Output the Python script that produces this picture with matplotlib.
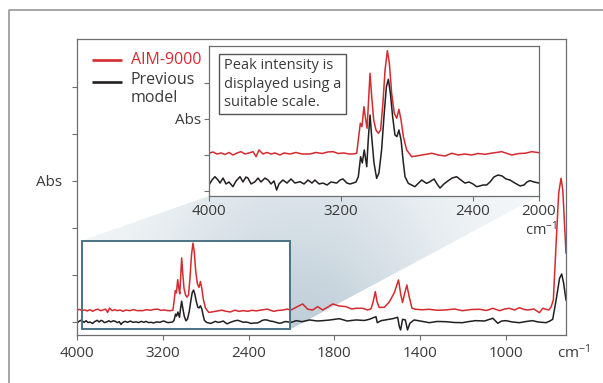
import numpy as np
import matplotlib
matplotlib.use("Agg")
import matplotlib.pyplot as plt
from matplotlib.patches import Polygon, Rectangle

plt.rcParams['font.family'] = ['Open Sans', 'DejaVu Sans']
plt.rcParams['mathtext.fontset'] = 'custom'
plt.rcParams['mathtext.rm'] = 'Open Sans'
plt.rcParams['mathtext.it'] = 'Open Sans'

# ---------------- data ----------------
series_names = ['AIM-9000', 'Previous\nmodel']

# 4000-2000 cm-1 region (shown also in the inset)
wn_red_hi = [4000, 3976, 3952, 3927, 3903, 3879, 3855, 3830, 3806, 3782, 3758, 3733, 3715, 3697,
             3673, 3648, 3624, 3600, 3570, 3545, 3509, 3473, 3436, 3388, 3352, 3315, 3279, 3248,
             3218, 3182, 3152, 3127, 3105, 3095, 3083, 3073, 3061, 3050, 3042, 3035, 3024, 3014,
             3002, 2988, 2974, 2960, 2946, 2933, 2919, 2907, 2893, 2877, 2862, 2849, 2836, 2822,
             2802, 2772, 2742, 2711, 2682, 2650, 2610, 2570, 2529, 2489, 2450, 2408, 2370, 2327,
             2280, 2226, 2166, 2120, 2085, 2044, 2000]
red_hi = [0.251, 0.269, 0.241, 0.255, 0.234, 0.262, 0.227, 0.255, 0.273, 0.241, 0.255, 0.273, 0.204, 0.297,
          0.241, 0.262, 0.241, 0.255, 0.227, 0.255, 0.241, 0.262, 0.241, 0.241, 0.262, 0.248, 0.269, 0.273,
          0.248, 0.255, 0.241, 0.241, 0.251, 0.436, 0.668, 0.620, 0.898, 0.713, 0.598, 0.898, 1.362, 1.037,
          0.713, 0.574, 0.529, 0.574, 0.945, 1.408, 1.676, 1.501, 1.084, 0.806, 0.737, 0.862, 0.713, 0.481,
          0.297, 0.204, 0.213, 0.227, 0.237, 0.251, 0.227, 0.213, 0.251, 0.227, 0.241, 0.227, 0.248, 0.237,
          0.255, 0.273, 0.227, 0.248, 0.251, 0.273, 0.259]

wn_black_hi = [4000, 3982, 3964, 3945, 3933, 3915, 3897, 3879, 3855, 3836, 3812, 3794, 3776, 3764,
               3745, 3721, 3703, 3685, 3661, 3642, 3624, 3606, 3590, 3576, 3552, 3527, 3503, 3479,
               3449, 3424, 3400, 3376, 3358, 3333, 3309, 3285, 3261, 3226, 3206, 3188, 3164, 3145,
               3127, 3109, 3095, 3081, 3071, 3059, 3044, 3035, 3024, 3014, 3000, 2984, 2970, 2954,
               2938, 2925, 2913, 2901, 2887, 2873, 2861, 2849, 2836, 2824, 2812, 2792, 2772, 2752,
               2732, 2711, 2682, 2661, 2636, 2618, 2600, 2576, 2552, 2527, 2499, 2473, 2449, 2424,
               2400, 2378, 2358, 2340, 2317, 2297, 2273, 2249, 2224, 2200, 2176, 2146, 2115, 2091,
               2073, 2055, 2030, 2000]
black_hi = [-0.020, 0.013, 0.035, 0.013, -0.007, 0.026, -0.013, 0.000, -0.031, 0.007, 0.035, 0.000, 0.033, 0.026,
            -0.013, 0.002, 0.026, 0.000, 0.026, 0.013, -0.013, 0.007, -0.053, -0.013, 0.013, -0.007, 0.020, -0.007,
            0.002, -0.013, 0.013, -0.007, 0.013, -0.013, -0.007, -0.020, 0.000, -0.007, 0.013, 0.020, -0.007, -0.013,
            -0.007, 0.000, 0.035, 0.167, 0.126, 0.212, 0.101, 0.278, 0.443, 0.300, 0.126, 0.024, 0.060, 0.212,
            0.456, 0.630, 0.679, 0.589, 0.432, 0.311, 0.300, 0.344, 0.278, 0.146, 0.035, -0.009, -0.020, -0.031,
            -0.009, 0.013, -0.009, 0.002, 0.020, -0.013, -0.040, -0.013, 0.007, 0.026, 0.035, 0.013, -0.007, 0.000,
            -0.013, -0.031, -0.026, -0.020, -0.020, 0.000, 0.033, 0.046, 0.040, 0.020, 0.013, -0.007, -0.026, -0.020,
            0.000, 0.009, 0.000, -0.007]

# 2000-720 cm-1 region
wn_red_lo = [1978, 1948, 1924, 1901, 1878, 1854, 1830, 1808, 1777, 1746, 1720, 1699, 1668, 1645,
             1629, 1619, 1609, 1601, 1591, 1567, 1544, 1521, 1501, 1490, 1482, 1474, 1462, 1451,
             1438, 1420, 1390, 1358, 1320, 1281, 1240, 1203, 1160, 1123, 1090, 1061, 1030, 1005,
             984, 960, 937, 915, 898, 870, 844, 828, 813, 800, 789, 779, 766, 754, 743, 735, 726, 720]
red_lo = [0.313, 0.383, 0.271, 0.255, 0.326, 0.255, 0.319, 0.383, 0.340, 0.326, 0.277, 0.291, 0.291, 0.255,
          0.283, 0.432, 0.645, 0.432, 0.309, 0.313, 0.426, 0.617, 0.894, 0.574, 0.415, 0.574, 0.787, 0.532,
          0.291, 0.270, 0.260, 0.270, 0.249, 0.255, 0.277, 0.240, 0.266, 0.270, 0.245, 0.291, 0.240, 0.277,
          0.291, 0.255, 0.304, 0.266, 0.255, 0.277, 0.198, 0.291, 0.270, 0.255, 0.326, 0.468, 1.681, 2.745,
          3.057, 2.809, 2.028, 1.468]

wn_black_lo = [1978, 1950, 1916, 1880, 1854, 1820, 1777, 1740, 1699, 1660, 1637, 1614, 1606, 1600,
               1582, 1550, 1528, 1505, 1497, 1491, 1482, 1469, 1459, 1448, 1428, 1400, 1358, 1320,
               1281, 1240, 1203, 1170, 1142, 1100, 1061, 1038, 1020, 1000, 970, 937, 905, 876,
               850, 813, 795, 782, 766, 750, 740, 731, 720]
black_lo = [0.028, 0.006, 0.043, 0.021, 0.028, 0.043, 0.070, 0.021, 0.043, 0.032, 0.057, 0.100, 0.113, -0.015,
            0.028, 0.053, 0.070, 0.100, -0.100, -0.170, 0.057, 0.043, -0.170, -0.028, 0.043, 0.021, -0.015, 0.011,
            0.006, -0.011, -0.015, 0.011, 0.028, 0.021, 0.079, -0.028, 0.021, 0.028, 0.000, -0.015, 0.011, 0.028,
            0.000, -0.015, 0.021, 0.057, 0.468, 0.930, 1.021, 0.823, 0.468]

main_xticks = [4000, 3200, 2400, 1800, 1400, 1000]
inset_xticks = [4000, 3200, 2400, 2000]

# inset display scaling ("suitable scale")
inset_red_gain, inset_red_offset = 2.0, 0.546
inset_black_gain, inset_black_offset = 4.2, 0.25

RED = '#d42a30'
BLACK = '#231f20'
SPINE = '#6d6e71'
TXT = '#3a3a3a'

# ---------------- figure ----------------
fig = plt.figure(figsize=(6.03, 3.83), dpi=100)
W, H = 603, 383

def fx(px):
    return px / W

def fy(py):
    return 1 - py / H

# background overlay in pixel coordinates
ax_bg = fig.add_axes([0, 0, 1, 1], zorder=0)
ax_bg.set_xlim(0, W)
ax_bg.set_ylim(H, 0)
ax_bg.axis('off')
ax_bg.plot([8.5, 8.5, W + 5], [H + 5, 10, 10], color='#8e8e8e', lw=1.1, solid_capstyle='butt')

# zoom projection shading
rx0, rx1, ry0, ry1 = 81.5, 290.4, 240.7, 329.3
ix0, ix1, iy1 = 209, 539, 196
poly = Polygon([(rx0, ry0), (ix0, iy1), (ix1, iy1), (rx1, ry1), (rx0, ry1)], closed=True,
               fc='none', ec='none')
ax_bg.add_patch(poly)
gx = np.linspace(70, 550, 240)
gy = np.linspace(190, 335, 80)
GX, GY = np.meshgrid(gx, gy)
dark = np.exp(-((GX - 300) / 150.0) ** 2) * (0.45 + 0.55 * (GY - 190) / 145)
light = np.array([0.965, 0.975, 0.982])
darkc = np.array([0.74, 0.80, 0.84])
img = light[None, None, :] * (1 - dark[..., None]) + darkc[None, None, :] * dark[..., None]
im = ax_bg.imshow(img, extent=[70, 550, 335, 190], origin='upper', aspect='auto', zorder=1,
                  interpolation='bilinear')
im.set_clip_path(poly)
ax_bg.add_patch(Rectangle((rx0, ry0), rx1 - rx0, ry1 - ry0, fc='white', ec='none', zorder=2))

# legend
ax_bg.plot([92, 122], [60, 60], color=RED, lw=1.9, solid_capstyle='butt', zorder=3)
ax_bg.plot([92, 122], [82, 82], color=BLACK, lw=1.9, solid_capstyle='butt', zorder=3)
ax_bg.text(131, 60, series_names[0], color=RED, fontsize=11.5, va='center', ha='left', zorder=3)
ax_bg.text(131, 72, series_names[1], color=TXT, fontsize=11.5, va='top', ha='left',
           linespacing=1.15, zorder=3)

# scale: 4000-2000 compressed 2x relative to 2000-720
def fwd(w):
    w = np.asarray(w, dtype=float)
    return np.where(w >= 2000, w / 800.0, 2.5 + (w - 2000) / 400.0)

def inv(u):
    u = np.asarray(u, dtype=float)
    return np.where(u >= 2.5, u * 800.0, 2000 + (u - 2.5) * 400.0)

# main axes
ax = fig.add_axes([fx(77), fy(335), (566 - 77) / W, (335 - 39) / H], zorder=1)
ax.set_facecolor('none')
ax.set_xscale('function', functions=(fwd, inv))
ax.set_xlim(4000, 720)
ax.set_ylim(-0.277, 6.02)

ax.plot(wn_red_hi + wn_red_lo, red_hi + red_lo, color=RED, lw=1.1, zorder=2)
ax.plot(wn_black_hi + wn_black_lo, black_hi + black_lo, color=BLACK, lw=1.1, zorder=2)

ax.add_patch(Rectangle((rx0, ry0), rx1 - rx0, ry1 - ry0, transform=ax_bg.transData,
                       fill=False, ec='#4b7383', lw=1.4, zorder=3, clip_on=False))

for s in ax.spines.values():
    s.set_color(SPINE)
    s.set_linewidth(0.9)
ax.set_xticks(main_xticks)
ax.set_xticklabels([str(t) for t in main_xticks])
ax.xaxis.set_minor_locator(matplotlib.ticker.NullLocator())
ax.set_yticks([0, 1, 2, 3, 4, 5])
ax.set_yticklabels(['', '', '', 'Abs', '', ''])
ax.tick_params(axis='both', direction='out', length=3.6, width=0.8, color=SPINE,
               labelcolor=TXT, labelsize=11)
ax.tick_params(axis='x', pad=4)
ax.tick_params(axis='y', pad=7)
fig.text(fx(557), fy(353), r'cm$^{-1}$', fontsize=11, color=TXT, ha='left', va='center')

# inset axes
ax_in = fig.add_axes([fx(209), fy(196), (539 - 209) / W, (196 - 45.7) / H], zorder=2)
ax_in.set_facecolor('white')
ax_in.set_xlim(4000, 2000)
ax_in.set_ylim(-0.139, 4.036)
ax_in.plot(wn_red_hi, inset_red_gain * np.array(red_hi) + inset_red_offset, color=RED, lw=1.1)
ax_in.plot(wn_black_hi, inset_black_gain * np.array(black_hi) + inset_black_offset, color=BLACK, lw=1.1)
for s in ax_in.spines.values():
    s.set_color(SPINE)
    s.set_linewidth(0.9)
ax_in.set_xticks(inset_xticks)
ax_in.set_xticklabels([str(t) for t in inset_xticks])
ax_in.set_yticks([0, 1, 2, 3])
ax_in.set_yticklabels(['', '', 'Abs', ''])
ax_in.tick_params(axis='both', direction='out', length=3.6, width=0.8, color=SPINE,
                  labelcolor=TXT, labelsize=11)
ax_in.tick_params(axis='x', pad=2)
ax_in.tick_params(axis='y', pad=2)
fig.text(fx(557), fy(230), r'cm$^{-1}$', fontsize=10.5, color=TXT, ha='right', va='center', zorder=5)

ax_in.text(0.045, 0.915, 'Peak intensity is\ndisplayed using a\nsuitable scale.', transform=ax_in.transAxes,
           fontsize=10.5, color=TXT, va='top', ha='left', linespacing=1.28,
           bbox=dict(boxstyle='square,pad=0.3', fc='white', ec='#555555', lw=1.0))

fig.savefig('out.png', dpi=100, facecolor='white')
